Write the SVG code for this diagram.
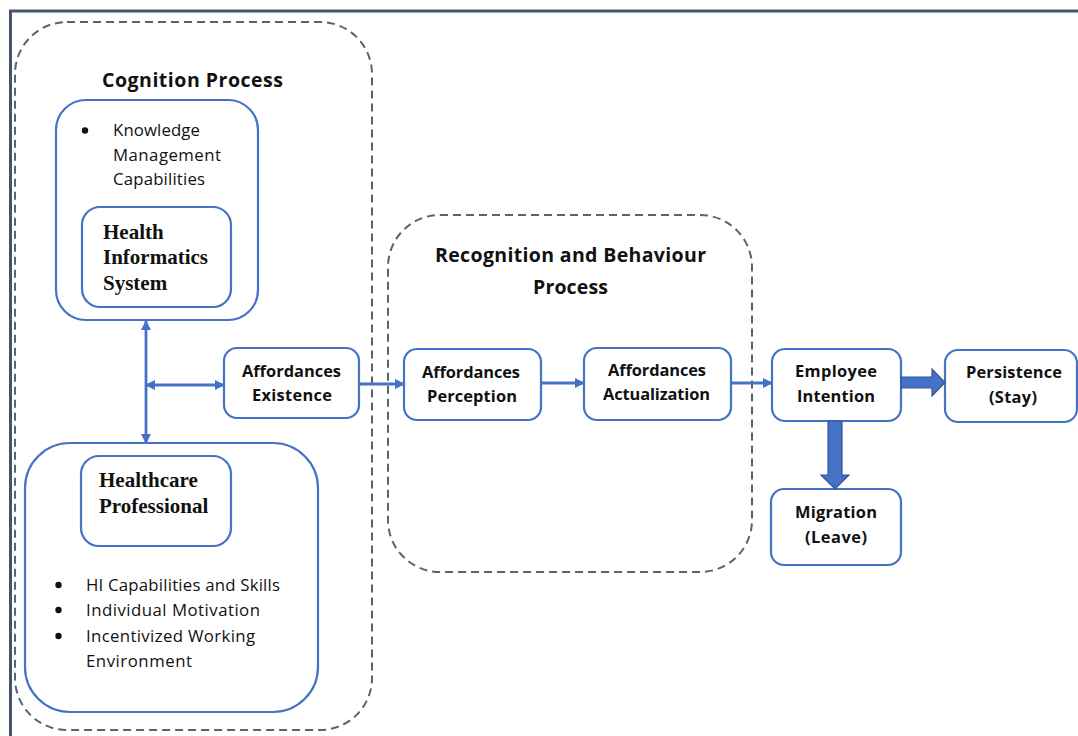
<svg xmlns="http://www.w3.org/2000/svg" width="1078" height="736" viewBox="0 0 1078 736">
<defs>
<style>
.frame{fill:none;stroke:#44546a;stroke-width:3}
.group{fill:none;stroke:#5b6272;stroke-width:2;stroke-dasharray:8 5}
.box{fill:#fff;stroke:#4472c4;stroke-width:2.2}
.conn{fill:none;stroke:#4472c4;stroke-width:2.8}
.block{fill:#4472c4;stroke:#2f5597;stroke-width:1.2}
.dot{fill:#111}
.t{font-family:"Open Sans",Lato,"Liberation Sans",sans-serif;font-size:16.8px;fill:#111}
.tb{font-family:"Open Sans",Lato,"Liberation Sans",sans-serif;font-weight:bold;font-size:16.4px;fill:#111}
.th{font-family:"Open Sans",Lato,"Liberation Sans",sans-serif;font-weight:bold;font-size:19.5px;fill:#111}
.ts{font-family:"Liberation Serif","Times New Roman",serif;font-weight:bold;font-size:21px;fill:#111}
</style>
<marker id="ah" viewBox="0 0 10 10" refX="9" refY="5" markerWidth="10" markerHeight="10" markerUnits="userSpaceOnUse" orient="auto-start-reverse">
<path d="M0,0 L10,5 L0,10 z" fill="#4472c4"/>
</marker>
</defs>
<rect x="0" y="0" width="1078" height="736" fill="#fff"/>
<rect class="frame" x="10.5" y="11" width="1100" height="760"/>

<g id="cognition-process">
<rect class="group" x="15" y="22" width="357" height="708" rx="52"/>
<text class="th" x="102" y="87" textLength="181">Cognition Process</text>
</g>

<g id="knowledge-management">
<rect class="box" x="56" y="100" width="202" height="220" rx="30"/>
<circle class="dot" cx="85" cy="130.5" r="3.2"/>
<text class="t" x="113" y="136" textLength="87">Knowledge</text>
<text class="t" x="113" y="161" textLength="108">Management</text>
<text class="t" x="113" y="185" textLength="92">Capabilities</text>
</g>

<g id="health-informatics-system">
<rect class="box" x="82" y="207" width="149" height="100" rx="18"/>
<text class="ts" x="103" y="239">Health</text>
<text class="ts" x="103" y="264">Informatics</text>
<text class="ts" x="103" y="290">System</text>
</g>

<g id="healthcare-professional-group">
<rect class="box" x="25" y="443" width="293" height="269" rx="45"/>
<circle class="dot" cx="58.5" cy="585" r="3.2"/>
<circle class="dot" cx="58.5" cy="610" r="3.2"/>
<circle class="dot" cx="58.5" cy="636" r="3.2"/>
<text class="t" x="86" y="591" textLength="194">HI Capabilities and Skills</text>
<text class="t" x="86" y="616" textLength="174">Individual Motivation</text>
<text class="t" x="86" y="642" textLength="169">Incentivized Working</text>
<text class="t" x="86" y="667" textLength="106">Environment</text>
</g>

<g id="healthcare-professional">
<rect class="box" x="81" y="456" width="150" height="90" rx="18"/>
<text class="ts" x="99" y="487">Healthcare</text>
<text class="ts" x="99" y="513">Professional</text>
</g>

<g id="affordances-existence">
<rect class="box" x="224" y="348" width="135" height="70" rx="13"/>
<text class="tb" x="242" y="377" textLength="99">Affordances</text>
<text class="tb" x="252" y="401" textLength="80">Existence</text>
</g>

<g id="recognition-behaviour-process">
<rect class="group" x="388" y="215" width="364" height="357" rx="52"/>
<text class="th" x="435" y="262" textLength="271">Recognition and Behaviour</text>
<text class="th" x="533" y="294" textLength="75">Process</text>
</g>

<g id="affordances-perception">
<rect class="box" x="404" y="349" width="137" height="71" rx="13"/>
<text class="tb" x="422" y="378" textLength="98">Affordances</text>
<text class="tb" x="427" y="402" textLength="90">Perception</text>
</g>

<g id="affordances-actualization">
<rect class="box" x="584" y="348" width="147" height="72" rx="13"/>
<text class="tb" x="608" y="376" textLength="98">Affordances</text>
<text class="tb" x="603" y="400" textLength="107">Actualization</text>
</g>

<g id="employee-intention">
<rect class="box" x="772" y="349" width="129" height="72" rx="13"/>
<text class="tb" x="795" y="377" textLength="82">Employee</text>
<text class="tb" x="797" y="402" textLength="78">Intention</text>
</g>

<g id="persistence">
<rect class="box" x="945" y="350" width="132" height="72" rx="13"/>
<text class="tb" x="966" y="378" textLength="96">Persistence</text>
<text class="tb" x="989" y="403" textLength="48">(Stay)</text>
</g>

<g id="migration">
<rect class="box" x="771" y="489" width="130" height="76" rx="13"/>
<text class="tb" x="795" y="518" textLength="82">Migration</text>
<text class="tb" x="805" y="543" textLength="62">(Leave)</text>
</g>

<g id="connectors">
<line class="conn" x1="146" y1="321" x2="146" y2="443" marker-start="url(#ah)" marker-end="url(#ah)"/>
<line class="conn" x1="146" y1="385" x2="224" y2="385" marker-start="url(#ah)" marker-end="url(#ah)"/>
<line class="conn" x1="359" y1="384" x2="404" y2="384" marker-end="url(#ah)"/>
<line class="conn" x1="541" y1="383" x2="584" y2="383" marker-end="url(#ah)"/>
<line class="conn" x1="731" y1="383" x2="772" y2="383" marker-end="url(#ah)"/>
<path class="block" d="M901,377 L932,377 L932,369 L945,382.5 L932,396 L932,388 L901,388 z"/>
<path class="block" d="M828,421 L842,421 L842,475 L849,475 L835,489 L821,475 L828,475 z"/>
</g>
</svg>
